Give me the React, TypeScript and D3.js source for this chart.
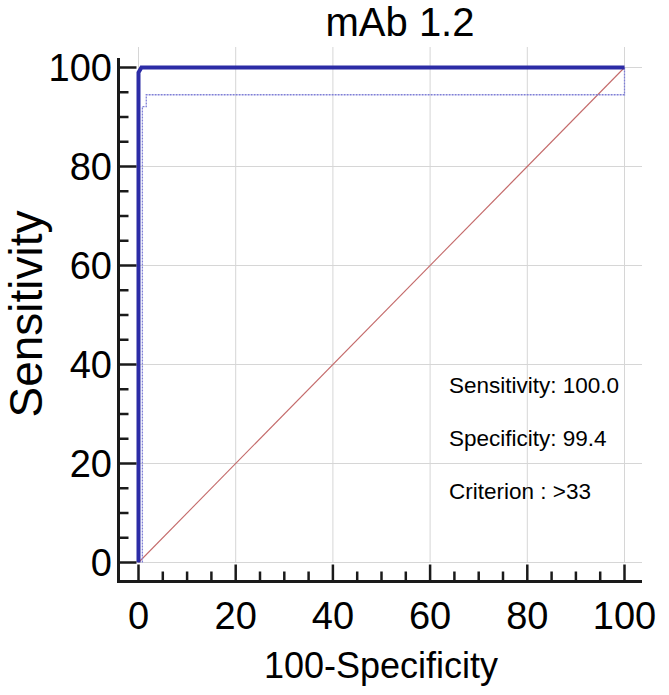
import React from "react";
import * as d3 from "d3";

const title = "mAb 1.2";
const xLabel = "100-Specificity";
const yLabel = "Sensitivity";
const tickValues = [0, 20, 40, 60, 80, 100];
const minorTickValues = d3.range(0, 101, 5);

// ROC curve (100-Specificity, Sensitivity)
const rocX = [0, 0, 0.6, 100];
const rocY = [0, 99.0, 100, 100];
// lower confidence bound
const ciX = [0.8, 0.8, 1.6, 1.6, 100, 100];
const ciY = [0, 92.1, 92.1, 94.5, 94.5, 100];
// reference diagonal
const diagX = [0, 100];
const diagY = [0, 100];

const annotations = ["Sensitivity: 100.0", "Specificity: 99.4", "Criterion : >33"];

export default function App() {
  const W = 669, H = 695;
  const x = d3.scaleLinear().domain([0, 100]).range([138.5, 624.5]);
  const y = d3.scaleLinear().domain([0, 100]).range([562.5, 67.5]);
  const gridRight = 642, gridTop = 47;
  const axisX = 118.5, axisY = 581.5;
  const axisTop = 58, axisRight = 642;

  const line = d3.line<[number, number]>().x(d => x(d[0])).y(d => y(d[1]));
  const roc = line(rocX.map((v, i) => [v, rocY[i]] as [number, number]));
  const ci = line(ciX.map((v, i) => [v, ciY[i]] as [number, number]));
  const diag = line(diagX.map((v, i) => [v, diagY[i]] as [number, number]));

  const font = "Arial, 'Liberation Sans', sans-serif";

  return (
    <svg width={W} height={H} style={{ position: "absolute", left: 0, top: 0, background: "#fff" }} fontFamily={font}>
      <rect width={W} height={H} fill="#fff" />
      {tickValues.map(t => (
        <line key={"gx" + t} x1={x(t)} x2={x(t)} y1={gridTop} y2={y(0)} stroke="#d6d6d6" strokeWidth={1} />
      ))}
      {tickValues.map(t => (
        <line key={"gy" + t} x1={x(0)} x2={gridRight} y1={y(t)} y2={y(t)} stroke="#d6d6d6" strokeWidth={1} />
      ))}
      <path d={diag || ""} fill="none" stroke="#c46a6a" strokeWidth={1.1} />
      <path d={ci || ""} fill="none" stroke="#7f7fd6" strokeWidth={1.3} strokeDasharray="2,1" />
      <path d={roc || ""} fill="none" stroke="#2c2ca6" strokeWidth={4} strokeLinejoin="miter" />
      <line x1={axisX} x2={axisX} y1={axisTop} y2={axisY + 1.5} stroke="#1a1a1a" strokeWidth={3} />
      <line x1={axisX - 1.5} x2={axisRight} y1={axisY} y2={axisY} stroke="#1a1a1a" strokeWidth={3} />
      {minorTickValues.map(t => {
        const major = t % 20 === 0;
        return (
          <g key={"t" + t}>
            <line x1={axisX} x2={axisX + (major ? 18 : 10)} y1={y(t)} y2={y(t)} stroke="#1a1a1a" strokeWidth={2.5} />
            <line x1={x(t)} x2={x(t)} y1={axisY} y2={axisY - (major ? 17 : 10)} stroke="#1a1a1a" strokeWidth={2.5} />
          </g>
        );
      })}
      {tickValues.map(t => (
        <text key={"ly" + t} x={112} y={y(t)} dy="0.36em" textAnchor="end" fontSize={38} fill="#000">{t}</text>
      ))}
      {tickValues.map(t => (
        <text key={"lx" + t} x={x(t)} y={629} textAnchor="middle" fontSize={38} fill="#000">{t}</text>
      ))}
      <text x={400} y={36} textAnchor="middle" fontSize={40} fill="#000">{title}</text>
      <text x={381} y={678} textAnchor="middle" fontSize={36} fill="#000">{xLabel}</text>
      <text transform={`translate(42,314) rotate(-90)`} textAnchor="middle" fontSize={46} fill="#000">{yLabel}</text>
      {annotations.map((a, i) => (
        <text key={a} x={449} y={393 + i * 53} fontSize={22.5} fill="#000">{a}</text>
      ))}
    </svg>
  );
}
